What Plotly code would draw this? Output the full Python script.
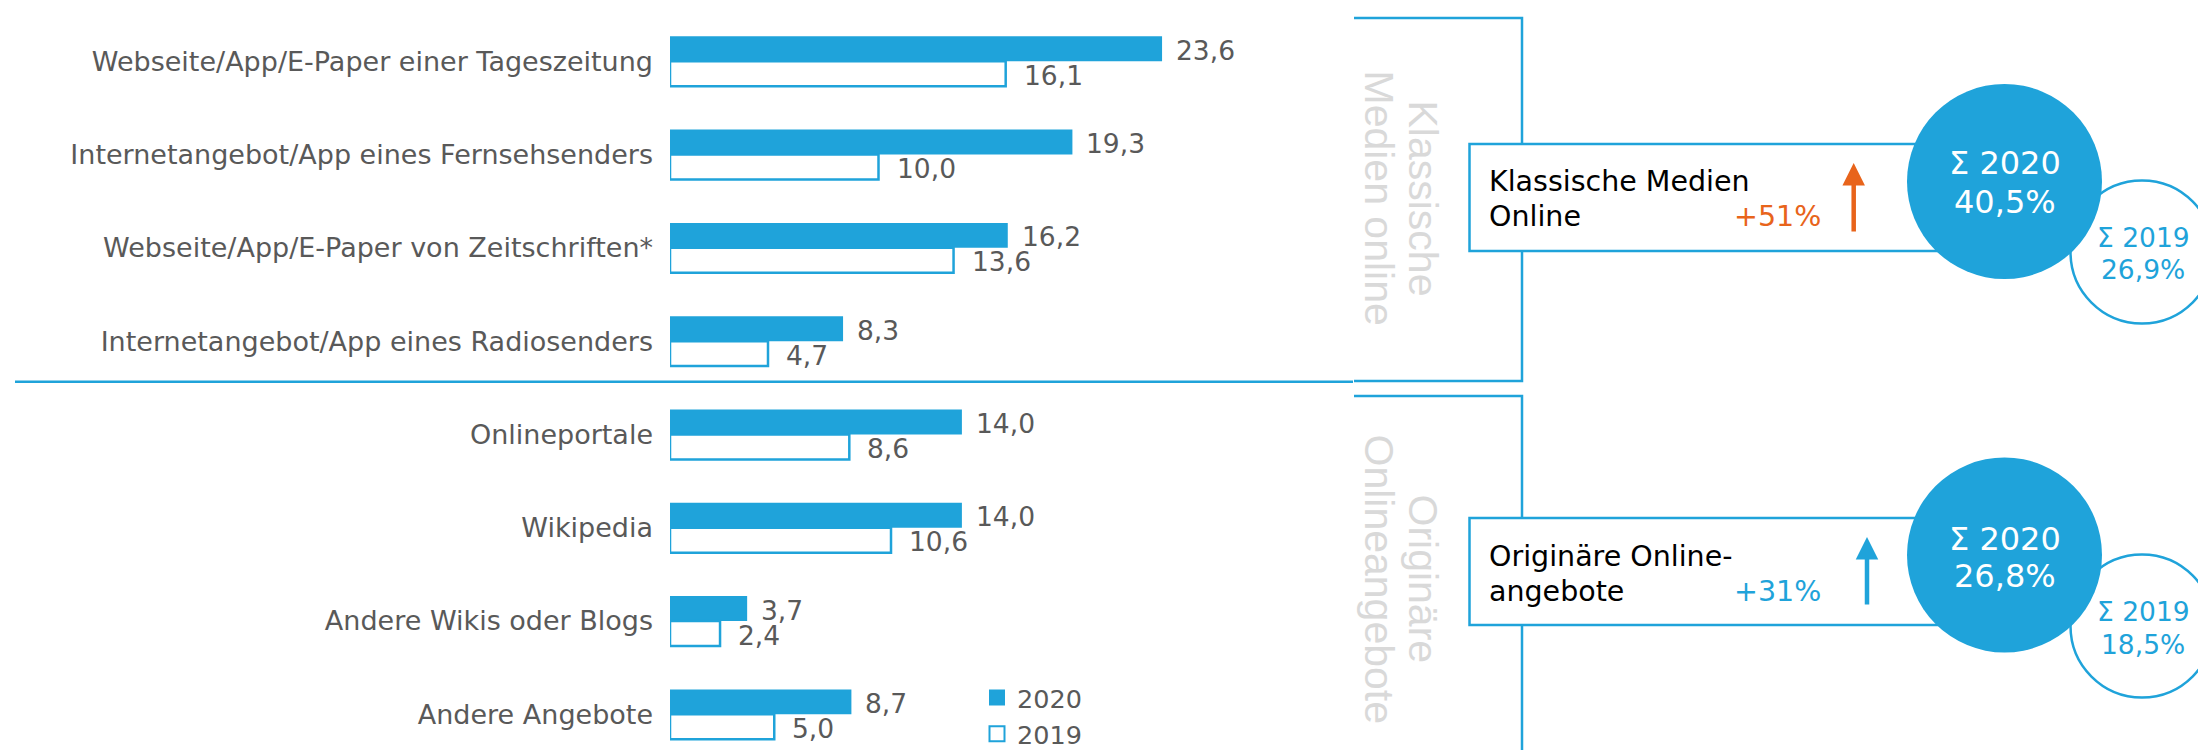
import plotly.graph_objects as go

# ---------------- data ----------------
categories = [
    "Webseite/App/E-Paper einer Tageszeitung",
    "Internetangebot/App eines Fernsehsenders",
    "Webseite/App/E-Paper von Zeitschriften*",
    "Internetangebot/App eines Radiosenders",
    "Onlineportale",
    "Wikipedia",
    "Andere Wikis oder Blogs",
    "Andere Angebote",
]
values_2020 = [23.6, 19.3, 16.2, 8.3, 14.0, 14.0, 3.7, 8.7]
values_2019 = [16.1, 10.0, 13.6, 4.7, 8.6, 10.6, 2.4, 5.0]
series_names = ["2020", "2019"]

group_titles = [("Klassische", "Medien online"), ("Originäre", "Onlineangebote")]
group_box_lines = [("Klassische Medien", "Online"), ("Originäre Online-", "angebote")]
sum_2020 = [40.5, 26.8]
sum_2019 = [26.9, 18.5]
change_pct = [51, 31]

# ---------------- style ----------------
BLUE = "#1FA3DA"
ORANGE = "#E8641B"
GREY = "#595959"
LIGHT = "#D9D9D9"
FONT = "DejaVu Sans"

W_FIG, H_FIG = 2206, 750
L = 662
PW = W_FIG - L
PX_PER_UNIT = 20.85


def fmt(v):
    return f"{v:.1f}".replace(".", ",")


def px(x):
    return (x - L) / PW


def py(y):
    return 1 - y / H_FIG


fig = go.Figure()
fig.add_trace(go.Bar(
    y=categories, x=values_2020, orientation="h", name=series_names[0],
    legendgroup=series_names[0], showlegend=False,
    marker=dict(color=BLUE, line=dict(width=0)), hoverinfo="skip",
))
fig.add_trace(go.Bar(
    y=categories, x=values_2019, orientation="h", name=series_names[1],
    legendgroup=series_names[1], showlegend=False,
    marker=dict(color="white", line=dict(color=BLUE, width=2.5)), hoverinfo="skip",
))
# legend entries (square swatches like the original)
fig.add_trace(go.Scatter(
    x=[None], y=[None], mode="markers", name=series_names[0], legendgroup=series_names[0],
    marker=dict(symbol="square", size=16, color=BLUE, line=dict(width=0)), hoverinfo="skip",
))
fig.add_trace(go.Scatter(
    x=[None], y=[None], mode="markers", name=series_names[1], legendgroup=series_names[1],
    marker=dict(symbol="square", size=15, color="white", line=dict(color=BLUE, width=2)),
    hoverinfo="skip",
))

annotations = []
# value labels
for cat, v in zip(categories, values_2020):
    annotations.append(dict(x=v, y=cat, xref="x", yref="y", text=fmt(v), showarrow=False,
                            xanchor="left", yanchor="middle", xshift=12, yshift=11,
                            font=dict(family=FONT, size=26.5, color=GREY)))
for cat, v in zip(categories, values_2019):
    annotations.append(dict(x=v, y=cat, xref="x", yref="y", text=fmt(v), showarrow=False,
                            xanchor="left", yanchor="middle", xshift=16, yshift=-14,
                            font=dict(family=FONT, size=26.5, color=GREY)))

shapes = []
# separator
shapes.append(dict(type="line", xref="paper", yref="paper", x0=px(7), x1=px(1345),
                   y0=py(373.7), y1=py(373.7), line=dict(color=BLUE, width=2.5)))

# per-group panel geometry (pixels)
panels = [
    dict(br_top=10, br_bot=373, title_y=190, box_top=136, box_bot=243,
         l1_y=173, l2_y=208, arrow_x=1845.7, arrow_tip=155, arrow_len=70, arrow_col=ORANGE,
         big_c=(1996.5, 173.5), big_r=97.5, big_t=(155, 193.5),
         small_c=(2134, 244), small_r=71.5, small_t=(230, 262)),
    dict(br_top=388, br_bot=748, title_y=571, box_top=510, box_bot=617,
         l1_y=548, l2_y=583, arrow_x=1859, arrow_tip=529, arrow_len=69, arrow_col=BLUE,
         big_c=(1996.5, 547), big_r=97.5, big_t=(531, 567.5),
         small_c=(2134, 618), small_r=71.5, small_t=(603, 636)),
]

for i, p in enumerate(panels):
    # bracket
    path = (f"M{px(1346)},{py(p['br_top'])} L{px(1514)},{py(p['br_top'])} "
            f"L{px(1514)},{py(p['br_bot'])} L{px(1346)},{py(p['br_bot'])}")
    shapes.append(dict(type="path", xref="paper", yref="paper", path=path,
                       line=dict(color=BLUE, width=2.5)))
    # box
    shapes.append(dict(type="rect", xref="paper", yref="paper",
                       x0=px(1461.5), x1=px(1990), y0=py(p["box_bot"]), y1=py(p["box_top"]),
                       fillcolor="white", line=dict(color=BLUE, width=2.5)))
    # small circle (2019)
    cx, cy = p["small_c"]; r = p["small_r"]
    shapes.append(dict(type="circle", xref="paper", yref="paper",
                       x0=px(cx - r), x1=px(cx + r), y0=py(cy + r), y1=py(cy - r),
                       fillcolor="white", line=dict(color=BLUE, width=2.5)))
    # big circle (2020)
    cx, cy = p["big_c"]; r = p["big_r"]
    shapes.append(dict(type="circle", xref="paper", yref="paper",
                       x0=px(cx - r), x1=px(cx + r), y0=py(cy + r), y1=py(cy - r),
                       fillcolor=BLUE, line=dict(width=0)))

    # rotated group title
    t1, t2 = group_titles[i]
    annotations.append(dict(x=px(1414.5), y=py(p["title_y"]), xref="paper", yref="paper",
                            text=t1, textangle=90, showarrow=False, xanchor="center", yanchor="middle",
                            font=dict(family="Liberation Sans", size=41, color=LIGHT)))
    annotations.append(dict(x=px(1370.5), y=py(p["title_y"]), xref="paper", yref="paper",
                            text=t2, textangle=90, showarrow=False, xanchor="center", yanchor="middle",
                            font=dict(family="Liberation Sans", size=41, color=LIGHT)))
    # box text
    b1, b2 = group_box_lines[i]
    annotations.append(dict(x=px(1479), y=py(p["l1_y"]), xref="paper", yref="paper", text=b1,
                            showarrow=False, xanchor="left", yanchor="middle",
                            font=dict(family=FONT, size=28.5, color="black")))
    annotations.append(dict(x=px(1479), y=py(p["l2_y"]), xref="paper", yref="paper", text=b2,
                            showarrow=False, xanchor="left", yanchor="middle",
                            font=dict(family=FONT, size=28.5, color="black")))
    annotations.append(dict(x=px(1815), y=py(p["l2_y"]), xref="paper", yref="paper",
                            text=f"+{change_pct[i]}%", showarrow=False, xanchor="right", yanchor="middle",
                            font=dict(family=FONT, size=28.5, color=p["arrow_col"])))
    # arrow
    annotations.append(dict(x=px(p["arrow_x"]), y=py(p["arrow_tip"]), xref="paper", yref="paper",
                            text="", showarrow=True, ax=0, ay=p["arrow_len"], arrowhead=2,
                            arrowsize=1.0, arrowwidth=4.5, arrowcolor=p["arrow_col"]))
    # circle texts
    bx = p["big_c"][0]
    annotations.append(dict(x=px(bx), y=py(p["big_t"][0]), xref="paper", yref="paper",
                            text="Σ 2020", showarrow=False, xanchor="center", yanchor="middle",
                            font=dict(family=FONT, size=32, color="white")))
    annotations.append(dict(x=px(bx), y=py(p["big_t"][1]), xref="paper", yref="paper",
                            text=f"{fmt(sum_2020[i])}%", showarrow=False, xanchor="center", yanchor="middle",
                            font=dict(family=FONT, size=32, color="white")))
    sx = p["small_c"][0] + 1
    annotations.append(dict(x=px(sx), y=py(p["small_t"][0]), xref="paper", yref="paper",
                            text="Σ 2019", showarrow=False, xanchor="center", yanchor="middle",
                            font=dict(family=FONT, size=26.5, color=BLUE)))
    annotations.append(dict(x=px(sx), y=py(p["small_t"][1]), xref="paper", yref="paper",
                            text=f"{fmt(sum_2019[i])}%", showarrow=False, xanchor="center", yanchor="middle",
                            font=dict(family=FONT, size=26.5, color=BLUE)))

fig.update_layout(
    width=W_FIG, height=H_FIG,
    margin=dict(l=L, r=0, t=0, b=0, pad=0),
    paper_bgcolor="white", plot_bgcolor="white",
    barmode="group", bargap=0.465, bargroupgap=0,
    showlegend=True,
    legend=dict(x=px(969), xanchor="left", y=py(708), yanchor="middle",
                traceorder="normal", bgcolor="rgba(0,0,0,0)", itemwidth=30, tracegroupgap=0,
                font=dict(family=FONT, size=25.5, color=GREY)),
    xaxis=dict(range=[0, PW / PX_PER_UNIT], visible=False, fixedrange=True),
    yaxis=dict(type="category", categoryorder="array", categoryarray=categories,
               range=[7.468, -0.571], showgrid=False, zeroline=False, showline=False,
               ticks="", ticklabelstandoff=16,
               tickfont=dict(family=FONT, size=27, color=GREY), fixedrange=True),
    shapes=shapes,
    annotations=annotations,
    font=dict(family=FONT),
)

fig.write_html("out.html", config={"displayModeBar": False})
